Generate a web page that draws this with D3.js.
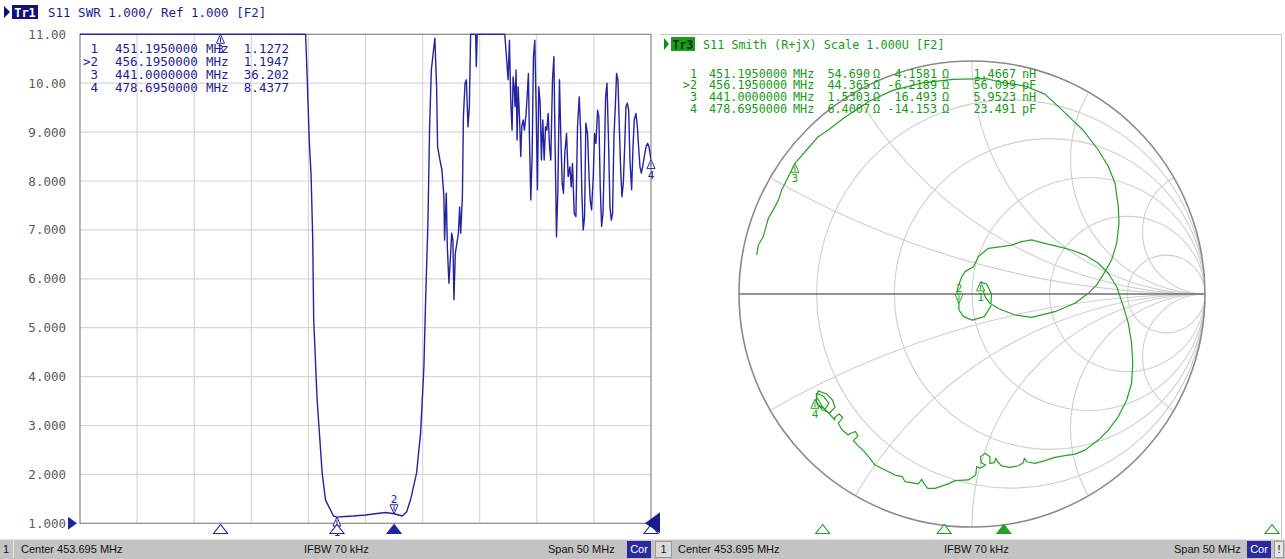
<!DOCTYPE html>
<html>
<head>
<meta charset="utf-8">
<script src="https://cdn.jsdelivr.net/npm/d3@7/dist/d3.min.js"></script>
<style>
  body { margin: 0; background: #fff; overflow: hidden; }
  svg { display: block; }
</style>
</head>
<body>
<div id="chart"></div>
<script>
// stimulus
let startMHz = 428.695;
let stopMHz = 478.695;

// SWR trace (Tr1); values above 11 sit on the top edge
let swrFreq = [428.695, 432.0, 436.0, 441.0, 444.0, 446.5, 448.2, 448.45, 448.60, 448.78, 448.93, 449.07, 449.16, 449.46, 449.90, 450.19, 450.89, 451.195, 451.90, 452.64, 453.70, 454.72, 455.45, 456.195, 456.91, 457.29, 457.64, 458.17, 458.52, 458.81, 458.96, 459.02, 459.16, 459.31, 459.46, 459.77, 459.92, 460.01, 460.21, 460.39, 460.56, 460.62, 460.77, 460.86, 461.00, 461.15, 461.24, 461.35, 461.44, 461.56, 461.83, 461.94, 462.03, 462.18, 462.27, 462.41, 462.53, 462.67, 462.79, 462.90, 463.34, 463.40, 463.48, 464.66, 465.89,
  466.06, 466.18, 466.30, 466.41, 466.53, 466.62, 466.71, 466.79, 466.88, 466.97, 467.06, 467.18, 467.29, 467.38, 467.50, 467.61, 467.76, 467.88, 467.96, 468.05, 468.17, 468.29, 468.40, 468.52, 468.64, 468.75, 468.87, 468.99, 469.10, 469.22, 469.34, 469.46, 469.57, 469.69, 469.81, 469.92, 470.07, 470.19, 470.30, 470.42, 470.54, 470.68, 470.80, 470.92, 471.03, 471.15, 471.30, 471.44, 471.59, 471.71, 471.82, 471.97, 472.12, 472.26, 472.41, 472.53, 472.64, 472.76, 472.88, 472.99, 473.14, 473.26, 473.37, 473.49, 473.64, 473.75, 473.87, 474.02, 474.13, 474.25, 474.37, 474.49, 474.60, 474.72, 474.84, 474.98, 475.10, 475.22, 475.33, 475.45, 475.57, 475.68, 475.80, 475.92, 476.03, 476.15, 476.27, 476.39, 476.50, 476.62, 476.74, 476.85, 477.00, 477.12, 477.23, 477.38, 477.50, 477.61, 477.73, 477.85, 477.96, 478.11, 478.26, 478.40, 478.52, 478.695];
let swrValue = [19.0, 24.0, 30.0, 36.2, 31.0, 22.0, 14.0, 11.6, 10.03, 8.78, 8.12, 6.85, 5.16, 3.52, 2.03, 1.48, 1.15, 1.127, 1.14, 1.15, 1.17, 1.20, 1.22, 1.195, 1.15, 1.23, 1.48, 2.03, 2.85, 4.20, 5.57, 6.04, 7.13, 9.11, 10.27, 10.92, 9.93, 8.70, 8.43, 8.22, 7.68, 6.79, 7.75, 6.66, 5.91, 6.52, 6.93, 6.79, 5.57, 6.52, 6.93, 7.47, 6.93, 7.68, 9.32, 10.00, 10.07, 9.11, 9.52, 11.5, 13.0, 10.34, 13.0, 16.0, 11.5,
  10.47, 10.07, 10.88, 9.66, 9.04, 10.13, 9.93, 9.52, 10.27, 8.84, 9.93, 9.31, 8.50, 9.11, 9.25, 9.04, 9.38, 9.86, 10.20, 8.91, 7.61, 8.57, 10.54, 10.88, 9.45, 7.82, 9.93, 9.59, 8.43, 9.25, 8.43, 9.11, 9.04, 9.38, 8.70, 8.43, 10.07, 10.54, 8.70, 6.86, 7.82, 10.07, 8.91, 7.95, 7.75, 8.57, 8.97, 8.09, 8.29, 7.88, 8.36, 7.34, 7.27, 9.11, 9.72, 9.04, 7.75, 7.00, 7.27, 9.18, 8.97, 8.16, 7.61, 7.41, 8.09, 8.97, 8.77, 9.45, 9.31, 7.88, 7.07, 7.34, 8.36, 9.72, 10.00, 8.77, 7.47, 7.20, 7.34, 8.91, 9.52, 10.20, 10.07, 9.11, 8.29, 7.68, 7.95, 8.70, 9.52, 9.59, 9.45, 8.43, 7.82, 8.70, 9.25, 9.38, 9.11, 8.70, 8.29, 8.16, 8.29, 8.50, 8.70, 8.77, 8.70, 8.44];
let swrTicks = [1, 2, 3, 4, 5, 6, 7, 8, 9, 10, 11];

// Smith trace (Tr3), reflection coefficient
let smithRe = [-0.924, -0.917, -0.896, -0.888, -0.874, -0.853, -0.831, -0.817, -0.795, -0.760, -0.710, -0.660, -0.617, -0.541, -0.441, -0.340, -0.212, -0.083, 0.060, 0.120, 0.227, 0.313, 0.386, 0.476,
  0.542, 0.585, 0.614, 0.628, 0.631, 0.621, 0.599, 0.571, 0.535, 0.499, 0.442, 0.356, 0.256, 0.185, 0.113, 0.077, 0.056, 0.037,
  0.063, 0.084, 0.080, 0.053, 0.001, -0.036, -0.056, -0.056, -0.066, -0.062, -0.044, -0.030, 0.006, 0.027, 0.070, 0.127, 0.170, 0.213, 0.256, 0.313, 0.371, 0.428, 0.485, 0.542, 0.585, 0.621, 0.650, 0.671, 0.685, 0.690, 0.685, 0.664, 0.628, 0.585, 0.542, 0.485, 0.442, 0.399, 0.356, 0.313, 0.270,
  0.235, 0.225, 0.220, 0.199, 0.163, 0.127, 0.110, 0.102, 0.096, 0.077, 0.077, 0.056, 0.037, 0.039, 0.059, 0.034, 0.020, 0.016, -0.016, -0.073, -0.102, -0.159, -0.190, -0.207, -0.216, -0.230, -0.288, -0.299, -0.330, -0.373, -0.416, -0.438, -0.466, -0.488, -0.509,
  -0.490, -0.500, -0.525, -0.531, -0.557, -0.574, -0.555, -0.570, -0.590, -0.588, -0.612,
  -0.642, -0.667, -0.660, -0.624, -0.599, -0.588, -0.609, -0.642, -0.667, -0.668, -0.638, -0.614, -0.631, -0.657, -0.674];
let smithIm = [0.167, 0.210, 0.246, 0.275, 0.325, 0.361, 0.403, 0.446, 0.489, 0.561, 0.618, 0.675, 0.704, 0.762, 0.827, 0.874, 0.906, 0.921, 0.924, 0.910, 0.893, 0.858, 0.790, 0.704,
  0.618, 0.547, 0.475, 0.375, 0.303, 0.217, 0.146, 0.096, 0.039, 0.003, -0.040, -0.076, -0.100, -0.090, -0.062, -0.040, -0.011, 0.052,
  0.043, 0.000, -0.054, -0.097, -0.112, -0.097, -0.069, -0.040, -0.011, 0.024, 0.074, 0.096, 0.117, 0.160, 0.196, 0.203, 0.210, 0.225, 0.232, 0.217, 0.203, 0.189, 0.167, 0.132, 0.089, 0.031, -0.054, -0.126, -0.212, -0.298, -0.383, -0.455, -0.526, -0.584, -0.627, -0.670, -0.687, -0.694, -0.701, -0.715, -0.727,
  -0.720, -0.705, -0.724, -0.737, -0.744, -0.738, -0.720, -0.705, -0.724, -0.727, -0.698, -0.684, -0.698, -0.724, -0.734, -0.748, -0.741, -0.777, -0.798, -0.801, -0.815, -0.834, -0.834, -0.813, -0.795, -0.815, -0.805, -0.784, -0.777, -0.755, -0.734, -0.705, -0.672, -0.652, -0.629,
  -0.610, -0.590, -0.600, -0.605, -0.584, -0.555, -0.530, -0.515, -0.530, -0.541, -0.515,
  -0.484, -0.441, -0.416, -0.429, -0.455, -0.486, -0.509, -0.498, -0.466, -0.426, -0.438, -0.469, -0.495, -0.478, -0.452];
let smithResist = [0.2, 0.5, 1, 2, 5];
let smithReact = [0.268, 0.577, 1, 1.732, 3.732];

// markers
let markerLabel = ["1", ">2", "3", "4"];
let markerNum = ["1", "2", "3", "4"];
let markerFreq = [451.195, 456.195, 441.0, 478.695];
let markerSwr = [1.1272, 1.1947, 36.202, 8.4377];
let markerR = [54.690, 44.365, 1.5303, 6.4007];
let markerX = [4.1581, -6.2189, 16.493, -14.153];
let markerLC = [1.4667, 56.099, 5.9523, 23.491];
let markerLCUnit = ["nH", "pF", "nH", "pF"];
let markerSmithRe = [0.037, -0.056, -0.760, -0.674];
let markerSmithIm = [0.052, -0.040, 0.561, -0.452];
let activeMarker = 1;

const WIDTH = 1285;
const HEIGHT = 559;
const BLUE = "#23239f";
const BLUE_TXT = "#1d1d92";
const GREEN = "#22a322";
const GREEN_TXT = "#159b15";
const MONO = "'DejaVu Sans Mono', monospace";
const SANS = "'Liberation Sans', Arial, sans-serif";

const fmt = d3.formatLocale({decimal: ".", thousands: ",", grouping: [3], currency: ["", ""], minus: "-"});
const f5 = fmt.format(".5r");
const fFreq = fmt.format(".7f");

const svg = d3.select("#chart").append("svg")
    .attr("width", WIDTH)
    .attr("height", HEIGHT);
svg.append("rect").attr("width", WIDTH).attr("height", HEIGHT).attr("fill", "#fff");

// ---------------- left panel: SWR ----------------
const marginLeft = 80, plotRight = 651, plotTop = 34.3, plotBottom = 523.3;

const x = d3.scaleLinear().domain([startMHz, stopMHz]).range([marginLeft, plotRight]);
const y = d3.scaleLinear().domain([1, 11]).range([plotBottom, plotTop]).clamp(true);
const xGrid = d3.range(0, 11).map(i => startMHz + i * (stopMHz - startMHz) / 10);

const left = svg.append("g");

left.append("g").selectAll("line").data(xGrid.slice(1, 10)).join("line")
    .attr("x1", d => x(d)).attr("x2", d => x(d))
    .attr("y1", plotTop).attr("y2", plotBottom)
    .attr("stroke", "#d6d6d6").attr("stroke-width", 1.2);
left.append("g").selectAll("line").data(swrTicks.slice(1, 10)).join("line")
    .attr("x1", marginLeft).attr("x2", plotRight)
    .attr("y1", d => y(d)).attr("y2", d => y(d))
    .attr("stroke", "#d6d6d6").attr("stroke-width", 1.2);
left.append("rect")
    .attr("x", marginLeft).attr("y", plotTop)
    .attr("width", plotRight - marginLeft).attr("height", plotBottom - plotTop)
    .attr("fill", "none").attr("stroke", "#858585").attr("stroke-width", 1.2);

left.append("g").selectAll("text").data(swrTicks).join("text")
    .attr("x", 66).attr("y", d => y(d) + 4.5)
    .attr("text-anchor", "end")
    .attr("font-family", MONO).attr("font-size", 12.5)
    .attr("fill", "#5a5a5a")
    .text(d => fmt.format(".4r")(d));

// reference level arrows
left.append("path").attr("d", `M68,${plotBottom - 6.5}L77,${plotBottom}L68,${plotBottom + 6.5}Z`).attr("fill", BLUE);

// title
left.append("path").attr("d", "M4,6L10,12L4,18Z").attr("fill", "#10106f");
left.append("rect").attr("x", 12).attr("y", 5).attr("width", 26).attr("height", 14).attr("fill", "#12127a");
left.append("text").attr("x", 25).attr("y", 16.5).attr("text-anchor", "middle")
    .attr("font-family", MONO).attr("font-size", 12).attr("font-weight", "bold")
    .attr("fill", "#fff").text("Tr1");
left.append("text").attr("x", 48).attr("y", 17)
    .attr("font-family", MONO).attr("font-size", 12.5).attr("fill", BLUE_TXT)
    .text("S11 SWR 1.000/ Ref 1.000 [F2]");

// trace
left.append("clipPath").attr("id", "swrClip").append("rect")
    .attr("x", marginLeft).attr("y", plotTop - 1)
    .attr("width", plotRight - marginLeft).attr("height", plotBottom - plotTop + 2);
const swrLine = d3.line().x((d, i) => x(swrFreq[i])).y((d, i) => y(swrValue[i]));
left.append("path")
    .attr("clip-path", "url(#swrClip)")
    .attr("fill", "none").attr("stroke", BLUE).attr("stroke-width", 1.4)
    .attr("stroke-linejoin", "round")
    .attr("d", swrLine(swrValue));

// marker table
const swrTable = left.append("g").attr("font-family", MONO).attr("font-size", 12.5).attr("fill", BLUE_TXT);
markerLabel.forEach(function(lbl, i) {
  let by = 52.5 + i * 13;
  swrTable.append("text").attr("x", 98).attr("y", by).attr("text-anchor", "end").text(lbl);
  swrTable.append("text").attr("x", 115).attr("y", by).text(fFreq(markerFreq[i]));
  swrTable.append("text").attr("x", 206).attr("y", by).text("MHz");
  swrTable.append("text").attr("x", 289).attr("y", by).attr("text-anchor", "end").text(f5(markerSwr[i]));
});

// markers on the trace
function drawTraceMarker(g, px, py, num, down, color) {
  if (down) {
    g.append("path").attr("d", `M${px},${py}L${px - 4},${py - 9}L${px + 4},${py - 9}Z`)
        .attr("fill", "#fff").attr("stroke", color).attr("stroke-width", 1);
    g.append("line").attr("x1", px).attr("x2", px).attr("y1", py - 8).attr("y2", py - 3).attr("stroke", color);
    g.append("text").attr("x", px).attr("y", py - 11).attr("text-anchor", "middle")
        .attr("font-family", MONO).attr("font-size", 11).attr("fill", color).text(num);
  } else {
    g.append("path").attr("d", `M${px},${py}L${px - 4},${py + 9}L${px + 4},${py + 9}Z`)
        .attr("fill", "#fff").attr("stroke", color).attr("stroke-width", 1);
    g.append("line").attr("x1", px).attr("x2", px).attr("y1", py + 3).attr("y2", py + 8).attr("stroke", color);
    g.append("text").attr("x", px).attr("y", py + 19).attr("text-anchor", "middle")
        .attr("font-family", MONO).attr("font-size", 11).attr("fill", color).text(num);
  }
}
markerFreq.forEach(function(f, i) {
  drawTraceMarker(left, x(f), y(markerSwr[i]), markerNum[i], i === activeMarker, BLUE);
});

// stimulus markers under the grid
function drawStimMarker(g, px, active, color) {
  g.append("path").attr("d", `M${px},524.5L${px - 7},533.5L${px + 7},533.5Z`)
      .attr("fill", active ? color : "#fff").attr("stroke", color).attr("stroke-width", 1.1);
}
markerFreq.forEach(function(f, i) { drawStimMarker(left, x(f), i === activeMarker, BLUE); });
left.append("path").attr("d", `M645,${plotBottom}L660,${plotBottom - 11}L660,${plotBottom + 10}Z`).attr("fill", "#1b1b8c");

// ---------------- right panel: Smith ----------------
const cx = 972, cy = 294, R = 233;
const sx = d3.scaleLinear().domain([-1, 1]).range([cx - R, cx + R]);
const sy = d3.scaleLinear().domain([-1, 1]).range([cy + R, cy - R]);
const fs = d3.scaleLinear().domain([startMHz, stopMHz]).range([676, 1272]);

const right = svg.append("g");
right.append("line").attr("x1", 660).attr("x2", 1282).attr("y1", 34.5).attr("y2", 34.5).attr("stroke", "#c4c4c4");
right.append("line").attr("x1", 1281.5).attr("x2", 1281.5).attr("y1", 34.5).attr("y2", 539).attr("stroke", "#c4c4c4");

right.append("clipPath").attr("id", "smithClip").append("circle").attr("cx", cx).attr("cy", cy).attr("r", R);
const grid = right.append("g").attr("clip-path", "url(#smithClip)")
    .attr("fill", "none").attr("stroke", "#cfcfcf").attr("stroke-width", 1.1);
smithResist.forEach(function(r) {
  grid.append("circle").attr("cx", sx(r / (1 + r))).attr("cy", sy(0)).attr("r", sx(1 / (1 + r)) - sx(0));
});
smithReact.forEach(function(xv) {
  [1, -1].forEach(function(s) {
    grid.append("circle").attr("cx", sx(1)).attr("cy", sy(s / xv)).attr("r", sx(1 / xv) - sx(0));
  });
});
right.append("line").attr("x1", sx(-1)).attr("x2", sx(1)).attr("y1", sy(0)).attr("y2", sy(0))
    .attr("stroke", "#6e6e6e").attr("stroke-width", 1.3);
right.append("circle").attr("cx", cx).attr("cy", cy).attr("r", R)
    .attr("fill", "none").attr("stroke", "#8a8a8a").attr("stroke-width", 1.6);

// title
right.append("path").attr("d", "M664,38L669,44L664,50Z").attr("fill", "#128c12");
right.append("rect").attr("x", 671).attr("y", 37).attr("width", 24).attr("height", 14).attr("fill", "#17a017");
right.append("text").attr("x", 683).attr("y", 48.5).attr("text-anchor", "middle")
    .attr("font-family", MONO).attr("font-size", 11.5).attr("font-weight", "bold")
    .attr("fill", "#0c2a0c").text("Tr3");
right.append("text").attr("x", 703).attr("y", 49)
    .attr("font-family", MONO).attr("font-size", 11.8).attr("fill", GREEN_TXT)
    .text("S11 Smith (R+jX) Scale 1.000U [F2]");

// trace
const smithLine = d3.line().x((d, i) => sx(smithRe[i])).y((d, i) => sy(smithIm[i]));
right.append("path")
    .attr("fill", "none").attr("stroke", GREEN).attr("stroke-width", 1.2)
    .attr("stroke-linejoin", "round")
    .attr("d", smithLine(smithRe));

// marker table
const smithTable = right.append("g").attr("font-family", MONO).attr("font-size", 11.8).attr("fill", GREEN_TXT);
markerLabel.forEach(function(lbl, i) {
  let by = 77.5 + i * 11.9;
  smithTable.append("text").attr("x", 697).attr("y", by).attr("text-anchor", "end").text(lbl);
  smithTable.append("text").attr("x", 709).attr("y", by).text(fFreq(markerFreq[i]));
  smithTable.append("text").attr("x", 793).attr("y", by).text("MHz");
  smithTable.append("text").attr("x", 870).attr("y", by).attr("text-anchor", "end").text(f5(markerR[i]));
  smithTable.append("text").attr("x", 873).attr("y", by).text("\u03a9");
  smithTable.append("text").attr("x", 937).attr("y", by).attr("text-anchor", "end").text(f5(markerX[i]));
  smithTable.append("text").attr("x", 942).attr("y", by).text("\u03a9");
  smithTable.append("text").attr("x", 1016).attr("y", by).attr("text-anchor", "end").text(f5(markerLC[i]));
  smithTable.append("text").attr("x", 1022).attr("y", by).text(markerLCUnit[i]);
});

markerSmithRe.forEach(function(re, i) {
  drawTraceMarker(right, sx(re), sy(markerSmithIm[i]), markerNum[i], i === activeMarker, GREEN);
});
markerFreq.forEach(function(f, i) { drawStimMarker(right, fs(f), i === activeMarker, GREEN); });

// ---------------- status bar ----------------
const bar = svg.append("g").attr("font-family", SANS).attr("font-size", 11).attr("fill", "#111");
bar.append("rect").attr("x", 0).attr("y", 539).attr("width", WIDTH).attr("height", 20).attr("fill", "#c3c3c3");
bar.append("line").attr("x1", 0).attr("x2", WIDTH).attr("y1", 539.5).attr("y2", 539.5).attr("stroke", "#e6e6e6");
bar.append("text").attr("x", 3).attr("y", 553).text("1");
bar.append("line").attr("x1", 13.5).attr("x2", 13.5).attr("y1", 541).attr("y2", 558).attr("stroke", "#e8e8e8");
bar.append("text").attr("x", 21).attr("y", 553).text("Center 453.695 MHz");
bar.append("text").attr("x", 304).attr("y", 553).text("IFBW 70 kHz");
bar.append("text").attr("x", 548).attr("y", 553).text("Span 50 MHz");
bar.append("rect").attr("x", 627).attr("y", 541).attr("width", 24).attr("height", 17).attr("fill", "#2a2a9e");
bar.append("text").attr("x", 639).attr("y", 553).attr("text-anchor", "middle").attr("fill", "#fff").text("Cor");

bar.append("rect").attr("x", 655.5).attr("y", 541.5).attr("width", 16).attr("height", 16).attr("fill", "#dadada").attr("stroke", "#9a9a9a");
bar.append("text").attr("x", 663.5).attr("y", 553).attr("text-anchor", "middle").text("1");
bar.append("text").attr("x", 678).attr("y", 553).text("Center 453.695 MHz");
bar.append("text").attr("x", 944).attr("y", 553).text("IFBW 70 kHz");
bar.append("text").attr("x", 1174).attr("y", 553).text("Span 50 MHz");
bar.append("rect").attr("x", 1247).attr("y", 541).attr("width", 24).attr("height", 17).attr("fill", "#2a2a9e");
bar.append("text").attr("x", 1259).attr("y", 553).attr("text-anchor", "middle").attr("fill", "#fff").text("Cor");
bar.append("rect").attr("x", 1274.5).attr("y", 541.5).attr("width", 9).attr("height", 16).attr("fill", "#e6e6e6").attr("stroke", "#9a9a9a");
bar.append("text").attr("x", 1279).attr("y", 553).attr("text-anchor", "middle").text("!");
</script>
</body>
</html>
